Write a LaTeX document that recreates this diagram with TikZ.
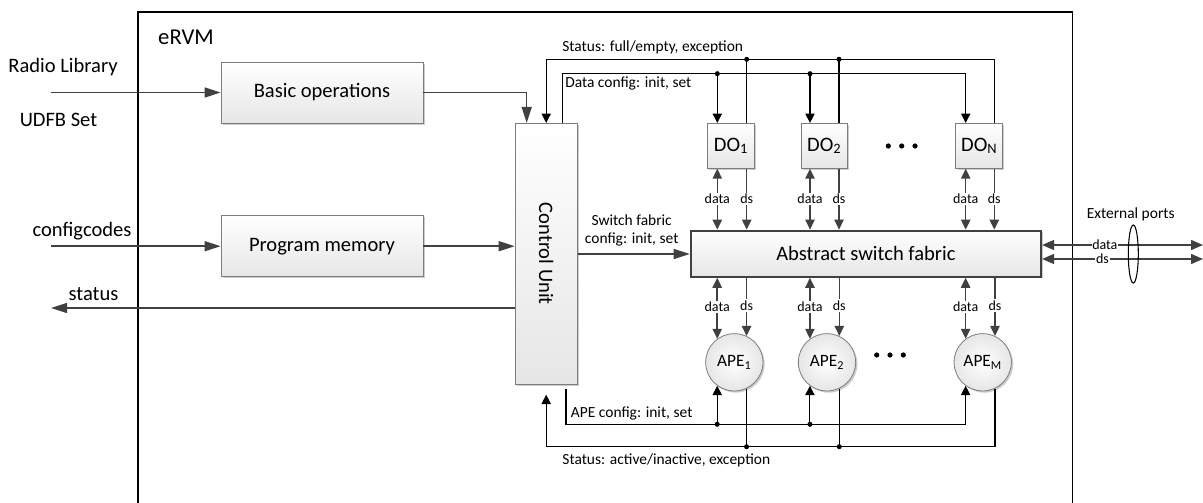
\documentclass[tikz,border=0pt]{standalone}
\usepackage{fontspec}
\setmainfont{Carlito}
\usetikzlibrary{arrows.meta,shadows,shapes.geometric,calc}
\definecolor{bd}{RGB}{125,125,125}
\definecolor{ar}{RGB}{64,64,64}
\definecolor{fillb}{RGB}{230,230,230}
\begin{document}
\begin{tikzpicture}[x=0.75pt,y=-0.75pt,
  font=\fontsize{15.4}{18}\selectfont,
  shd/.style={drop shadow={shadow xshift=1.3pt,shadow yshift=-1.3pt,fill=black,opacity=0.2}},
  blk/.style={draw=bd, line width=0.6pt, top color=white, bottom color=fillb, shd, inner sep=0pt},
  apest/.style={circle, draw=bd, line width=0.6pt, inner color=white, outer color=fillb, shd,
    minimum size=43pt, inner sep=0pt, font=\fontsize{13}{15}\selectfont},
  busfont/.style={font=\fontsize{11.6}{13.7}\selectfont},
  lab/.style={fill=white, inner sep=1pt, font=\fontsize{10.5}{12}\selectfont},
  gline/.style={draw=ar, line width=1.1pt},
  garr/.style={gline, -{Triangle[length=12pt,width=7.5pt]}},
  sarr/.style={gline, -{Triangle[length=7.5pt,width=7pt]}},
  dblarr/.style={gline, {Triangle[length=7.5pt,width=7pt]}-{Triangle[length=7.5pt,width=7pt]}},
  extarr/.style={gline, {Triangle[length=9pt,width=7.5pt]}-{Triangle[length=9pt,width=7.5pt]}},
  bus/.style={draw=black, line width=0.8pt},
  busarr/.style={bus, -{Triangle[length=7pt,width=7pt]}},
  jdot/.style={fill=black}
]
\path[use as bounding box] (0,0) rectangle (1203,503);

% outer eRVM frame
\draw[line width=0.8pt] (138,503) -- (138,12) -- (1072.7,12) -- (1072.7,503);
\node (ervm) at (186,37.3) {\fontsize{17}{20}\selectfont eRVM};

% blocks
\node[blk, minimum width=151.5pt, minimum height=45.75pt] (basic) at (322,92.5) {Basic operations};
\node[blk, minimum width=151.5pt, minimum height=45.75pt] (prog) at (322,246.2) {Program memory};
\node[blk, minimum width=46.7pt, minimum height=195.75pt] (cu) at (546.2,253.8) {};
\node[rotate=-90] (cutext) at (cu.center) {Control Unit};

\node[blk, minimum width=35pt, minimum height=33.75pt] (do1) at (731,145.8) {DO\textsubscript{1}};
\node[blk, minimum width=35pt, minimum height=33.75pt] (do2) at (824.3,145.8) {DO\textsubscript{2}};
\node[blk, minimum width=35pt, minimum height=33.75pt] (doN) at (979.2,145.8) {DO\textsubscript{N}};

\node[blk, draw=ar, line width=1.6pt, minimum width=262.7pt, minimum height=34.5pt] (fab) at (865.9,253.7) {Abstract switch fabric};

\node[apest] (ape1) at (734.3,362.3) {APE\textsubscript{1}};
\node[apest] (ape2) at (827,362.3) {APE\textsubscript{2}};
\node[apest] (apeM) at (982.7,362.3) {APE\textsubscript{M}};

% ellipsis dots
\foreach \x in {888.3,901.7,915} \fill (\x,146) circle (1.95pt);
\foreach \x in {876.7,890,903.3} \fill (\x,355) circle (1.95pt);

% column coordinates
\coordinate (x1d) at (717.3,0);
\coordinate (x1s) at (746.7,0);
\coordinate (x2d) at (810,0);
\coordinate (x2s) at (839,0);
\coordinate (xNd) at (965.7,0);
\coordinate (xNs) at (994.3,0);
\coordinate (stT) at (0,59.3);
\coordinate (dcT) at (0,73.7);
\coordinate (acB) at (0,424.3);
\coordinate (stB) at (0,446.7);
\coordinate (xb) at (526.7,0);
\coordinate (xcd) at (562.7,0);
\coordinate (xca) at (566,0);

% left inputs / outputs
\coordinate (inRL) at (51,92.5);
\coordinate (inCC) at (51,246.2);
\coordinate (outST) at (51,308);
\node (tRL) at (63,67) {Radio Library};
\node (tUD) at (58.5,120) {UDFB Set};
\node (tCC) at (82,231) {configcodes};
\node (tST) at (93.5,294) {status};
\draw[garr] (inRL) -- (basic.west);
\draw[garr] (inCC) -- (prog.west);
\draw[garr] (cu.west |- outST) -- (outST);

% blocks to control unit
\draw[garr] (basic.east) -| (xb |- cu.north);
\draw[garr] (prog.east) -- (prog.east -| cu.west);

% switch fabric config
\coordinate (swy) at (0,254);
\draw[garr] (cu.east |- swy) -- (fab.west |- swy);
\node[busfont, align=center] (tsw) at (631.7,230.2) {Switch fabric\\config: init, set};

% top status bus
\draw[busarr] (xNs |- doN.north) -- (xNs |- stT) -- (cu.north |- stT) -- (cu.north);
\draw[bus] (x1s |- do1.north) -- (x1s |- stT);
\draw[bus] (x2s |- do2.north) -- (x2s |- stT);
\fill[jdot] (x1s |- stT) circle (1.9pt);
\fill[jdot] (x2s |- stT) circle (1.9pt);
\node[busfont] (tst1) at (652.7,47) {Status: full/empty, exception};

% data config bus
\draw[busarr] (xcd |- cu.north) -- (xcd |- dcT) -- (xNd |- dcT) -- (xNd |- doN.north);
\draw[busarr] (x1d |- dcT) -- (x1d |- do1.north);
\draw[busarr] (x2d |- dcT) -- (x2d |- do2.north);
\fill[jdot] (x1d |- dcT) circle (1.9pt);
\fill[jdot] (x2d |- dcT) circle (1.9pt);
\node[busfont, anchor=west, inner sep=0pt] (tdc) at (565,83.3) {Data config: init, set};

% DO <-> fabric
\foreach \d/\s/\n in {x1d/x1s/do1, x2d/x2s/do2, xNd/xNs/doN}{
  \draw[dblarr] (\d |- \n.south) -- (\d |- fab.north) node[lab,pos=0.5] {data};
  \draw[sarr] (\s |- \n.south) -- (\s |- fab.north) node[lab,pos=0.5] {ds};
}

% fabric <-> APE
\foreach \n in {ape1, ape2, apeM}{
  \draw[dblarr] (\n.126.4 |- fab.south) -- (\n.126.4) node[lab,pos=0.48] {data};
  \draw[sarr] (\n.65.5 |- fab.south) -- (\n.65.5) node[lab,pos=0.48] {ds};
}

% APE config bus
\draw[busarr, shorten <=3.5pt] (xca |- cu.south) -- (xca |- acB) -- (apeM.-126.4 |- acB) -- (apeM.-126.4);
\draw[busarr] (ape1.-126.4 |- acB) -- (ape1.-126.4);
\draw[busarr] (ape2.-126.4 |- acB) -- (ape2.-126.4);
\fill[jdot] (ape1.-126.4 |- acB) circle (1.9pt);
\fill[jdot] (ape2.-126.4 |- acB) circle (1.9pt);
\node[busfont, anchor=west, inner sep=0pt] (tac) at (570.7,413.7) {APE config: init, set};

% bottom status bus
\draw[busarr, shorten >=7.5pt] (apeM.-65.5) -- (apeM.-65.5 |- stB) -- (cu.south |- stB) -- (cu.south);
\draw[bus] (ape1.-65.5) -- (ape1.-65.5 |- stB);
\draw[bus] (ape2.-65.5) -- (ape2.-65.5 |- stB);
\fill[jdot] (ape1.-65.5 |- stB) circle (1.9pt);
\fill[jdot] (ape2.-65.5 |- stB) circle (1.9pt);
\node[busfont] (tst2) at (666.3,460.3) {Status: active/inactive, exception};

% external ports
\coordinate (extD) at (1203,245);
\coordinate (extS) at (1203,259);
\draw[extarr] (fab.east |- extD) -- (extD) node[lab,pos=0.39,inner sep=0.5pt] {data};
\draw[extarr] (fab.east |- extS) -- (extS) node[lab,pos=0.375,inner sep=0.5pt] {ds};
\node[draw, ellipse, line width=0.8pt, minimum width=7.5pt, minimum height=43.5pt, inner sep=0pt] (ports) at (1133.3,254) {};
\node[busfont] (text) at (1130.7,214) {External ports};
\end{tikzpicture}
\end{document}
